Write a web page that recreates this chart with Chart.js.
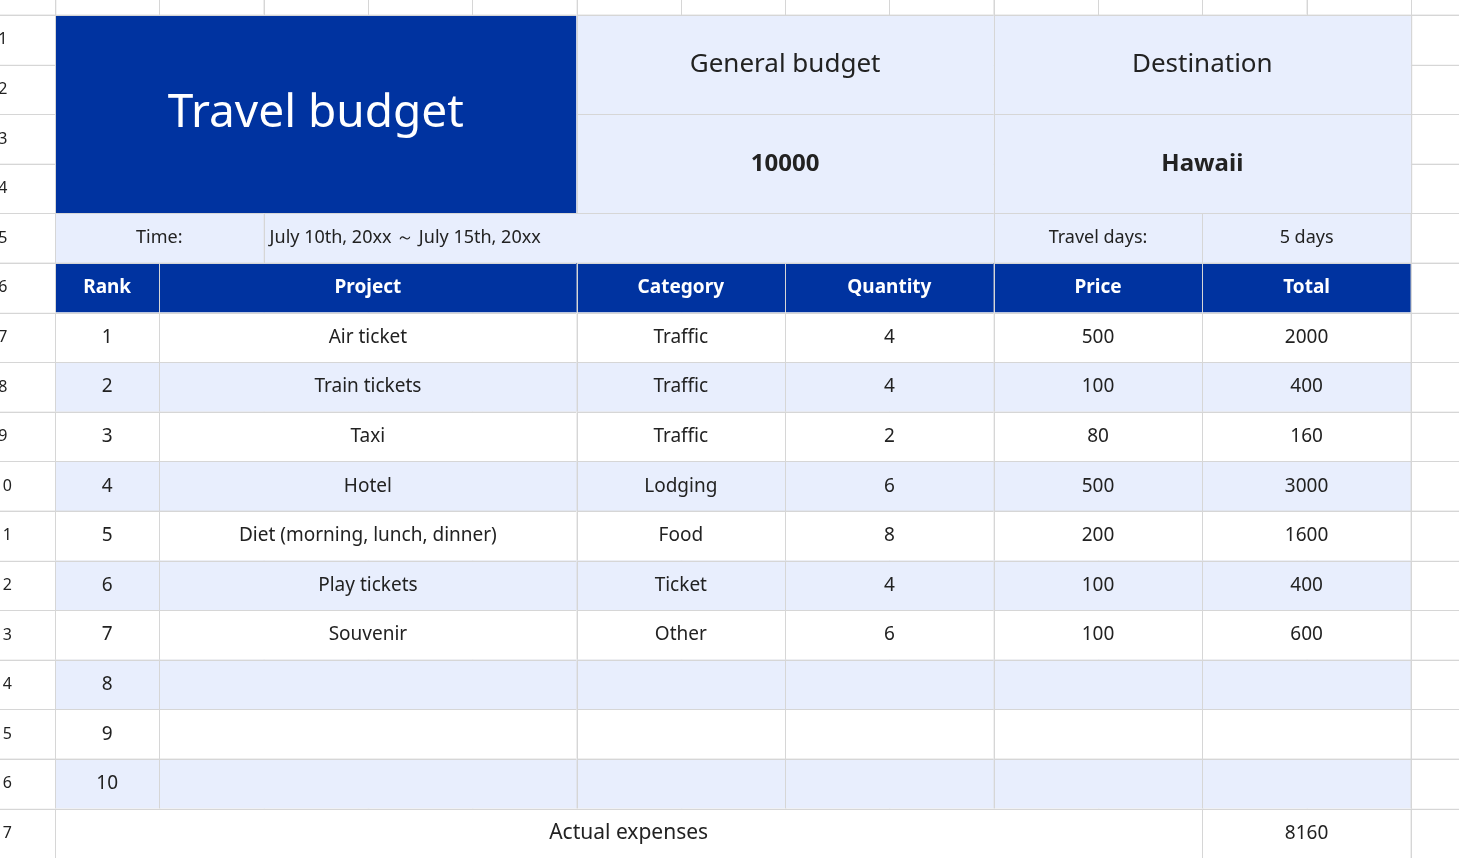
<!DOCTYPE html>
<html>
<head>
<meta charset="utf-8">
<script src="https://cdn.jsdelivr.net/npm/chart.js@4"></script>
<style>
html, body { margin: 0; padding: 0; background: #fff; overflow: hidden; }
#box { width: 1459px; height: 858px; }
</style>
</head>
<body>
<div id="box"><canvas id="sheet"></canvas></div>
<script>
// sheet content
const ranks = [1, 2, 3, 4, 5, 6, 7, 8, 9, 10];
const projects = ["Air ticket", "Train tickets", "Taxi", "Hotel", "Diet (morning, lunch, dinner)", "Play tickets", "Souvenir", "", "", ""];
const categories = ["Traffic", "Traffic", "Traffic", "Lodging", "Food", "Ticket", "Other", "", "", ""];
const quantities = [4, 4, 2, 6, 8, 4, 6, "", "", ""];
const prices = [500, 100, 80, 500, 200, 100, 100, "", "", ""];
const totals = [2000, 400, 160, 3000, 1600, 400, 600, "", "", ""];
const headers = ["Rank", "Project", "Category", "Quantity", "Price", "Total"];
const headerCols = [[0, 1], [1, 5], [5, 7], [7, 9], [9, 11], [11, 13]];

const DARK = "#0033a0";
const LIGHT = "#e8eefd";
const FONT = "'Noto Sans', Inter, sans-serif";
const COLW = 104.3, ROWH = 49.6;

function cell(ctx, xs, ys, c1, r1, c2, r2, fill, text, font, color, align, padX) {
	let x1 = xs.getPixelForValue(c1), x2 = xs.getPixelForValue(c2);
	let y1 = ys.getPixelForValue(r1), y2 = ys.getPixelForValue(r2);
	ctx.fillStyle = fill;
	ctx.fillRect(x1, y1, x2 - x1, y2 - y1);
	ctx.strokeStyle = "#d6d6d6";
	ctx.lineWidth = 1;
	ctx.strokeRect(Math.round(x1) + 0.5, Math.round(y1) + 0.5, x2 - x1, y2 - y1);
	if (text === "" || text === undefined) return;
	ctx.fillStyle = color || "#222";
	ctx.font = font || ("19px " + FONT);
	ctx.textBaseline = "middle";
	if (align === "left") {
		ctx.textAlign = "left";
		ctx.fillText(String(text), x1 + (padX || 6), (y1 + y2) / 2);
	} else {
		ctx.textAlign = "center";
		ctx.fillText(String(text), (x1 + x2) / 2, (y1 + y2) / 2);
	}
}

const sheetPlugin = {
	id: "sheet",
	afterDraw(chart) {
		let ctx = chart.ctx, xs = chart.scales.x, ys = chart.scales.y;
		ctx.save();
		// blank grid
		for (let c = 0; c < 14; c++) {
			for (let r = -1; r < 18; r++) cell(ctx, xs, ys, c, r, c + 1, r + 1, "#fff", "");
		}
		// row numbers
		for (let r = 1; r <= 17; r++) {
			cell(ctx, xs, ys, -1, r - 1, 0, r, "#fff", r, "16px " + FONT, "#222");
		}
		cell(ctx, xs, ys, -1, -1, 0, 0, "#fff", "");
		// title block
		cell(ctx, xs, ys, 0, 0, 5, 4, DARK, "Travel budget", "46px " + FONT, "#fff");
		cell(ctx, xs, ys, 5, 0, 9, 2, LIGHT, "General budget", "26px " + FONT);
		cell(ctx, xs, ys, 9, 0, 13, 2, LIGHT, "Destination", "26px " + FONT);
		cell(ctx, xs, ys, 5, 2, 9, 4, LIGHT, "10000", "bold 24px " + FONT);
		cell(ctx, xs, ys, 9, 2, 13, 4, LIGHT, "Hawaii", "bold 24px " + FONT);
		// row 5
		cell(ctx, xs, ys, 0, 4, 2, 5, LIGHT, "Time:", "18px " + FONT);
		cell(ctx, xs, ys, 2, 4, 9, 5, LIGHT, "July 10th, 20xx ～ July 15th, 20xx", "18px " + FONT, "#222", "left", 6);
		cell(ctx, xs, ys, 9, 4, 11, 5, LIGHT, "Travel days:", "18px " + FONT);
		cell(ctx, xs, ys, 11, 4, 13, 5, LIGHT, "5 days", "18px " + FONT);
		// header row
		headers.forEach(function(h, i) {
			cell(ctx, xs, ys, headerCols[i][0], 5, headerCols[i][1], 6, DARK, h, "bold 19px " + FONT, "#fff");
		});
		// data rows
		ranks.forEach(function(rk, i) {
			let r = 6 + i;
			let fill = (i % 2 === 0) ? "#fff" : LIGHT;
			let vals = [rk, projects[i], categories[i], quantities[i], prices[i], totals[i]];
			vals.forEach(function(v, j) {
				cell(ctx, xs, ys, headerCols[j][0], r, headerCols[j][1], r + 1, fill, v, "19px " + FONT);
			});
		});
		// total row
		cell(ctx, xs, ys, 0, 16, 11, 17, "#fff", "Actual expenses", "21px " + FONT);
		cell(ctx, xs, ys, 11, 16, 13, 17, "#fff", "8160", "19px " + FONT);
		ctx.restore();
	}
};

new Chart(document.getElementById("sheet"), {
	type: "scatter",
	data: { datasets: [{ data: [] }] },
	options: {
		responsive: true,
		maintainAspectRatio: false,
		animation: false,
		layout: { padding: 0 },
		scales: {
			x: { type: "linear", display: false, min: -1 + (1 - 55 / COLW), max: (1459 - 55) / COLW - 0 },
			y: { type: "linear", display: false, reverse: true, min: -15 / ROWH, max: (858 - 15) / ROWH }
		},
		plugins: { legend: { display: false }, tooltip: { enabled: false } }
	},
	plugins: [sheetPlugin]
});
</script>
</body>
</html>
